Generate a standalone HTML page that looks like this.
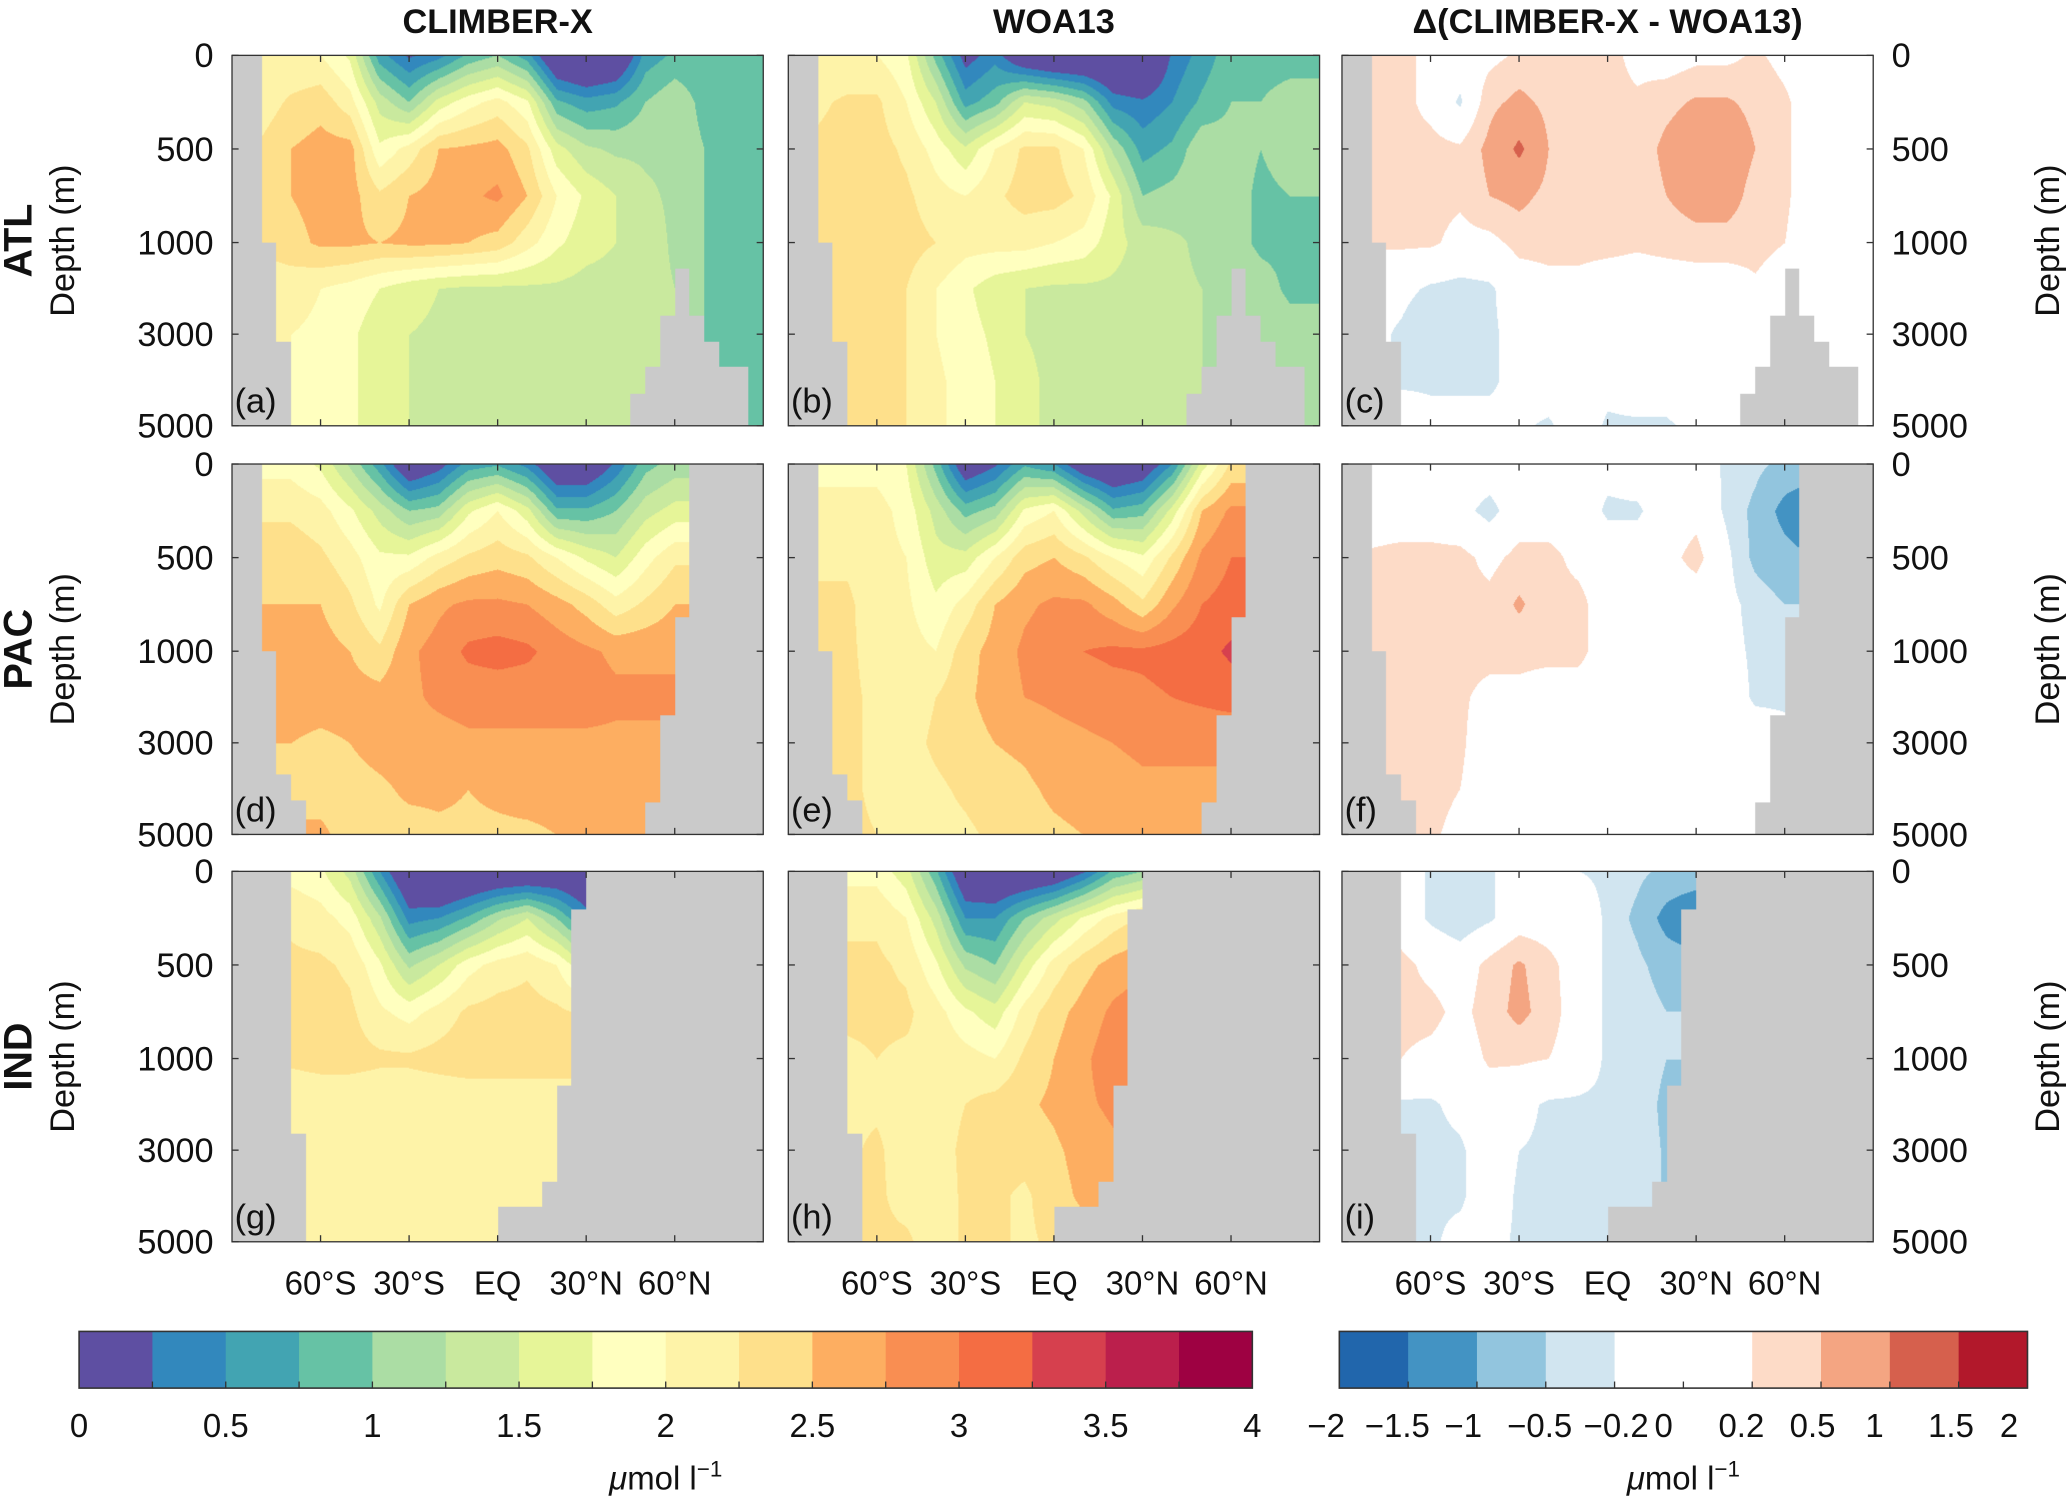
<!DOCTYPE html>
<html><head><meta charset="utf-8">
<style>
html,body{margin:0;padding:0;background:#fff;width:2067px;height:1498px;overflow:hidden}
#wrap{position:absolute;left:0;top:0;width:1568px;height:1137px;transform:scale(1.318240);transform-origin:0 0}
canvas{position:absolute}
svg{position:absolute;left:0;top:0}
text{font-family:"Liberation Sans",sans-serif;fill:#111}
</style></head>
<body>
<div id="wrap">
<svg id="ov" width="1568" height="1137" viewBox="0 0 1568 1137"></svg>
</div>
<script>
const latPoints=[-90,-80,-70,-60,-50,-40,-30,-20,-10,0,10,20,30,40,50,60,70,80,90];
const depthLevels=[0,250,500,750,1000,2000,3000,4000,5000];
const climberAtl=[
[2.0,2.0,2.0,2.0,1.7,0.6,0.2,0.4,0.8,1.0,0.6,-0.3,-0.5,-0.3,0.6,0.8,0.8,0.8,0.8],
[2.1,2.1,2.3,2.4,2.1,1.4,1.0,1.6,1.9,2.1,1.8,0.8,0.6,0.7,1.0,1.2,0.9,0.85,0.85],
[2.3,2.3,2.5,2.6,2.6,1.8,2.1,2.5,2.55,2.6,2.3,1.6,1.3,1.2,1.2,1.2,1.0,0.85,0.85],
[2.3,2.3,2.5,2.6,2.6,2.3,2.5,2.6,2.7,2.8,2.5,2.0,1.7,1.5,1.3,1.2,1.0,0.85,0.85],
[2.3,2.3,2.4,2.55,2.55,2.5,2.55,2.55,2.5,2.4,2.1,1.8,1.6,1.5,1.4,1.2,1.0,0.9,0.9],
[2.1,2.1,2.1,2.0,1.9,1.75,1.6,1.5,1.45,1.45,1.45,1.45,1.4,1.4,1.35,1.25,1.0,0.9,0.9],
[2.0,2.0,2.0,1.95,1.8,1.6,1.5,1.45,1.45,1.45,1.45,1.45,1.4,1.4,1.35,1.25,1.0,0.9,0.9],
[2.0,2.0,2.0,1.95,1.8,1.6,1.5,1.45,1.45,1.45,1.45,1.45,1.4,1.4,1.35,1.25,1.0,0.9,0.9],
[2.0,2.0,2.0,1.95,1.8,1.6,1.5,1.45,1.45,1.45,1.45,1.45,1.4,1.4,1.35,1.25,1.0,0.9,0.9]];
const woaAtl=[
[2.0,2.0,2.0,2.0,1.8,0.9,0.1,0.4,-0.2,-0.4,-0.4,-0.4,-0.5,0.3,0.6,0.9,0.9,0.9,0.9],
[2.2,2.2,2.3,2.3,2.0,1.5,0.65,0.9,1.5,1.4,1.1,0.4,0.3,0.5,0.8,1.0,1.0,1.1,1.1],
[2.3,2.3,2.35,2.35,2.2,1.9,1.55,2.0,2.3,2.3,2.0,1.2,0.65,0.8,1.2,1.1,1.0,1.1,1.1],
[2.35,2.35,2.35,2.35,2.3,2.1,2.0,2.2,2.35,2.35,2.2,1.7,1.0,1.1,1.2,1.1,0.95,1.0,1.0],
[2.35,2.35,2.35,2.35,2.35,2.25,2.1,2.1,2.1,2.0,1.9,1.6,1.4,1.3,1.2,1.1,0.95,0.95,0.95],
[2.3,2.3,2.3,2.3,2.25,2.0,1.8,1.6,1.5,1.45,1.45,1.45,1.4,1.3,1.25,1.2,1.1,0.95,0.95],
[2.3,2.3,2.3,2.3,2.25,2.0,1.85,1.7,1.5,1.45,1.4,1.4,1.35,1.3,1.25,1.2,1.15,1.1,1.1],
[2.3,2.3,2.3,2.3,2.25,2.05,1.9,1.75,1.55,1.45,1.4,1.4,1.35,1.3,1.25,1.2,1.2,1.15,1.15],
[2.3,2.3,2.3,2.3,2.25,2.05,1.9,1.75,1.55,1.45,1.4,1.4,1.35,1.3,1.25,1.2,1.2,1.15,1.15]];
const deltaAtl=[
[0,0.3,0.3,0.1,0,0.1,0.25,0.25,0.25,0.3,0.1,0,0.1,0.1,0.25,0.1,0,0,0],
[0,0.3,0.3,0.1,-0.25,0.4,0.6,0.4,0.3,0.3,0.25,0.4,0.55,0.55,0.4,0.25,0,0,0],
[0,0.3,0.3,0.3,0.25,0.6,1.1,0.5,0.3,0.3,0.3,0.6,0.8,0.8,0.5,0.25,0,0,0],
[0,0.3,0.3,0.3,0.25,0.5,0.6,0.4,0.3,0.3,0.3,0.5,0.7,0.7,0.35,0.25,0,0,0],
[0,0.25,0.25,0.25,0.1,0.1,0.3,0.3,0.3,0.3,0.25,0.3,0.35,0.35,0.3,0.2,0,0,0],
[0,-0.1,-0.1,-0.25,-0.3,-0.25,0,0.1,0.1,0,0,0,0,0,0.15,0,0,0,0],
[0,-0.1,-0.25,-0.5,-0.3,-0.25,-0.1,0,0,0,0,0,0,0,0,0,0,0,0],
[0,-0.1,-0.25,-0.25,-0.25,-0.25,-0.1,0,0,-0.1,0,0,0,0,0,0,0,0,0],
[0,0,0,-0.1,-0.1,-0.1,-0.15,-0.25,0,-0.25,-0.25,-0.25,-0.1,0,0,0,0,0,0]];
const climberPac=[
[1.9,1.9,1.9,1.7,1.2,0.6,-0.2,0.1,0.6,0.7,0.4,-0.2,-0.2,0.3,0.9,1.1,1.1,1.1,1.1],
[2.2,2.2,2.2,2.1,1.8,1.4,1.0,1.1,1.7,2.0,1.6,0.8,0.8,1.0,1.4,1.6,1.6,1.6,1.6],
[2.4,2.4,2.4,2.3,2.1,1.8,1.8,2.1,2.3,2.4,2.3,2.0,1.7,1.5,1.9,2.2,2.2,2.2,2.2],
[2.5,2.5,2.5,2.5,2.3,1.95,2.5,2.7,2.8,2.8,2.75,2.6,2.4,2.1,2.3,2.5,2.5,2.5,2.5],
[2.5,2.5,2.5,2.6,2.5,2.3,2.7,2.85,3.05,3.1,3.05,2.9,2.8,2.7,2.7,2.7,2.7,2.7,2.7],
[2.6,2.6,2.6,2.6,2.6,2.6,2.7,2.8,2.85,2.85,2.85,2.85,2.85,2.8,2.8,2.8,2.8,2.8,2.8],
[2.5,2.5,2.5,2.45,2.5,2.6,2.65,2.65,2.7,2.7,2.7,2.7,2.7,2.7,2.7,2.7,2.7,2.7,2.7],
[2.4,2.4,2.4,2.4,2.4,2.45,2.55,2.55,2.5,2.55,2.6,2.6,2.6,2.6,2.6,2.6,2.6,2.6,2.6],
[2.55,2.55,2.55,2.55,2.4,2.4,2.4,2.45,2.45,2.45,2.45,2.5,2.6,2.6,2.6,2.6,2.6,2.6,2.6]];
const woaPac=[
[1.9,1.9,1.9,1.9,1.75,0.9,-0.1,0.2,0.7,0.5,-0.1,-0.3,-0.1,0.5,1.6,2.3,2.3,2.3,2.3],
[2.1,2.1,2.1,2.1,1.9,1.4,0.9,1.1,1.8,2.0,1.4,0.8,0.9,1.6,2.5,2.8,2.8,2.8,2.8],
[2.2,2.2,2.2,2.1,2.0,1.6,1.6,2.0,2.4,2.5,2.3,2.0,1.8,2.3,2.8,3.0,3.0,3.0,3.0],
[2.3,2.3,2.3,2.1,2.05,1.8,2.1,2.5,2.7,2.8,2.8,2.6,2.3,2.7,3.0,3.1,3.1,3.1,3.1],
[2.3,2.3,2.3,2.15,2.1,2.0,2.4,2.6,2.8,2.9,3.0,3.05,3.05,3.1,3.15,3.3,3.3,3.3,3.3],
[2.3,2.3,2.3,2.2,2.1,2.25,2.45,2.6,2.75,2.8,2.85,2.9,2.95,3.0,3.05,3.1,3.1,3.1,3.1],
[2.3,2.3,2.3,2.2,2.15,2.3,2.4,2.5,2.55,2.65,2.7,2.75,2.8,2.8,2.8,2.8,2.8,2.8,2.8],
[2.3,2.3,2.3,2.2,2.1,2.2,2.3,2.4,2.45,2.55,2.6,2.65,2.7,2.7,2.7,2.7,2.7,2.7,2.7],
[2.3,2.3,2.3,2.25,2.1,2.15,2.2,2.3,2.4,2.45,2.5,2.55,2.6,2.6,2.6,2.6,2.6,2.6,2.6]];
const deltaPac=[
[0,0,0,0,0,0,0,0,-0.1,-0.1,0,0,0,-0.25,-0.4,-0.6,-0.6,-0.6,-0.6],
[0,0,0,0,-0.1,-0.3,0,0,0,-0.25,-0.25,0,0.1,-0.25,-0.6,-1.2,-1.6,-1.6,-1.6],
[0.25,0.25,0.3,0.3,0.3,0.1,0.3,0.3,0.1,0,0,0.1,0.3,-0.1,-0.6,-0.8,-1.0,-1.0,-1.0],
[0.3,0.3,0.3,0.3,0.3,0.3,0.55,0.3,0.3,0,0,0,0,-0.1,-0.3,-0.5,-0.5,-0.5,-0.5],
[0.3,0.3,0.3,0.3,0.3,0.3,0.3,0.3,0.3,0,0,0,0,-0.1,-0.25,-0.3,-0.3,-0.3,-0.3],
[0.3,0.3,0.3,0.3,0.25,0.1,0.1,0,0,0,0,0,0,0,-0.25,-0.25,-0.25,-0.25,-0.25],
[0.3,0.3,0.3,0.3,0.25,0,0,0,0,0,0,0,0,0,0,-0.1,-0.1,-0.1,-0.1],
[0.3,0.3,0.3,0.3,0.2,0,0,0,0,0,0,0,0,0,0,0,0,0,0],
[0.3,0.3,0.3,0.25,0.1,0,0,0,0,0,0,0,0,0,0,0,0,0,0]];
const climberInd=[
[1.9,1.9,1.9,1.8,1.4,0.5,-0.3,-0.6,-0.4,-0.3,-0.3,-0.2,-0.3,0.3,0.3,0.3,0.3,0.3,0.3],
[2.2,2.2,2.2,2.1,1.9,1.3,0.4,0.5,0.8,1.2,1.5,1.0,0.4,0.5,0.5,0.5,0.5,0.5,0.5],
[2.3,2.3,2.3,2.3,2.2,1.8,1.2,1.5,1.9,2.1,2.2,2.0,1.5,1.5,1.5,1.5,1.5,1.5,1.5],
[2.35,2.35,2.35,2.35,2.3,2.05,1.9,2.1,2.3,2.35,2.35,2.3,2.2,2.2,2.2,2.2,2.2,2.2,2.2],
[2.3,2.3,2.3,2.35,2.35,2.3,2.3,2.35,2.4,2.4,2.4,2.4,2.4,2.4,2.4,2.4,2.4,2.4,2.4],
[2.05,2.05,2.05,2.05,2.05,2.05,2.05,2.05,2.05,2.05,2.05,2.05,2.05,2.05,2.05,2.05,2.05,2.05,2.05],
[2.05,2.05,2.05,2.1,2.1,2.1,2.1,2.1,2.1,2.1,2.1,2.1,2.1,2.1,2.1,2.1,2.1,2.1,2.1],
[2.05,2.05,2.05,2.1,2.1,2.1,2.1,2.1,2.1,2.1,2.1,2.1,2.1,2.1,2.1,2.1,2.1,2.1,2.1],
[2.05,2.05,2.05,2.1,2.1,2.1,2.1,2.1,2.1,2.1,2.1,2.1,2.1,2.1,2.1,2.1,2.1,2.1,2.1]];
const woaInd=[
[1.9,1.9,1.9,1.9,1.6,0.8,-0.2,-0.3,-0.3,-0.2,0.2,0.8,1.0,1.0,1.0,1.0,1.0,1.0,1.0],
[2.2,2.2,2.2,2.2,2.0,1.4,0.5,0.5,1.0,1.4,1.8,2.1,2.3,2.3,2.3,2.3,2.3,2.3,2.3],
[2.3,2.3,2.3,2.3,2.2,1.8,1.2,1.0,1.6,2.1,2.4,2.6,2.7,2.7,2.7,2.7,2.7,2.7,2.7],
[2.3,2.3,2.3,2.3,2.3,2.1,1.8,1.6,2.1,2.4,2.6,2.8,2.9,2.9,2.9,2.9,2.9,2.9,2.9],
[2.2,2.2,2.2,2.25,2.2,2.2,2.1,2.0,2.3,2.5,2.7,2.9,3.05,3.05,3.05,3.05,3.05,3.05,3.05],
[2.2,2.2,2.2,2.2,2.1,2.15,2.25,2.35,2.45,2.55,2.7,2.8,2.8,2.8,2.8,2.8,2.8,2.8,2.8],
[2.2,2.2,2.2,2.3,2.1,2.15,2.3,2.35,2.35,2.45,2.6,2.7,2.7,2.7,2.7,2.7,2.7,2.7,2.7],
[2.3,2.3,2.3,2.3,2.15,2.1,2.3,2.3,2.2,2.4,2.55,2.6,2.6,2.6,2.6,2.6,2.6,2.6,2.6],
[2.3,2.3,2.3,2.3,2.3,2.1,2.3,2.3,2.2,2.3,2.4,2.5,2.5,2.5,2.5,2.5,2.5,2.5,2.5]];
const deltaInd=[
[0,0,0,-0.25,-0.3,-0.25,0,-0.1,-0.2,-0.25,-0.4,-0.6,-0.6,-0.5,0,0,0,0,0],
[0,0,0,-0.25,-0.4,-0.25,0,0,0,-0.25,-0.6,-1.2,-1.6,-0.8,0,0,0,0,0],
[0.3,0.3,0.3,0.1,0,0.3,0.55,0.3,0,-0.25,-0.4,-0.7,-0.7,-0.6,0,0,0,0,0],
[0.3,0.3,0.3,0.3,0.1,0.35,0.6,0.35,0,-0.25,-0.3,-0.5,-0.5,-0.5,0,0,0,0,0],
[0.2,0.2,0.2,0.1,0,0.25,0.25,0.2,0,-0.25,-0.3,-0.5,-0.5,-0.5,0,0,0,0,0],
[-0.25,-0.25,-0.25,-0.25,-0.1,0,-0.1,-0.25,-0.25,-0.25,-0.3,-0.6,-0.6,-0.5,0,0,0,0,0],
[-0.25,-0.25,-0.25,-0.3,-0.25,0,-0.2,-0.25,-0.3,-0.3,-0.3,-0.55,-0.55,-0.5,0,0,0,0,0],
[-0.25,-0.25,-0.25,-0.25,-0.25,0,-0.25,-0.25,-0.3,-0.3,-0.3,-0.55,-0.55,-0.5,0,0,0,0,0],
[-0.25,-0.25,-0.25,-0.25,-0.1,-0.1,-0.25,-0.25,-0.3,-0.3,-0.3,-0.5,-0.5,-0.5,0,0,0,0,0]];
// ocean bottom depth per 5-degree latitude bin (0 = land)
const bottomAtl=[0,0,1000,3160,5000,5000,5000,5000,5000,5000,5000,5000,5000,5000,5000,5000,5000,5000,5000,5000,5000,5000,5000,5000,5000,5000,5000,4300,3700,2600,1560,2600,3160,3700,3700,5000];
const bottomPac=[0,0,1000,3680,4250,5000,5000,5000,5000,5000,5000,5000,5000,5000,5000,5000,5000,5000,5000,5000,5000,5000,5000,5000,5000,5000,5000,5000,4300,2400,815,0,0,0,0,0];
const bottomInd=[0,0,0,0,2640,5000,5000,5000,5000,5000,5000,5000,5000,5000,5000,5000,5000,5000,4230,4230,4230,3680,1580,205,0,0,0,0,0,0,0,0,0,0,0,0];
const absLevels=[0,0.25,0.5,0.75,1,1.25,1.5,1.75,2,2.25,2.5,2.75,3,3.25,3.5,3.75,4];
const absColors=['#5e4fa2','#3288bd','#42a4b2','#66c2a5','#abdda4','#c9e99e','#e6f598','#ffffbf','#fef3a8','#fee08b','#fdae61','#f98e52','#f46d43','#d6404e','#bb1f4c','#9e0142'];
const diffLevels=[-2,-1.5,-1,-0.5,-0.2,0,0.2,0.5,1,1.5,2];
const diffColors=['#2166ac','#4393c3','#92c5de','#d1e5f0','#ffffff','#ffffff','#fddbc7','#f4a582','#d6604d','#b2182b'];
const absTickLabels=['0','0.5','1','1.5','2','2.5','3','3.5','4'];
const absTickValues=[0,0.5,1,1.5,2,2.5,3,3.5,4];
const diffTickLabels=['\u22122','\u22121.5','\u22121','\u22120.5','\u22120.2','0','0.2','0.5','1','1.5','2'];
const diffTickValues=[-2,-1.5,-1,-0.5,-0.2,0,0.2,0.5,1,1.5,2];
const depthTickValues=[0,500,1000,3000,5000];
const latTickValues=[-60,-30,0,30,60];
const latTickLabels=['60°S','30°S','EQ','30°N','60°N'];
const colTitles=['CLIMBER-X','WOA13','\u0394(CLIMBER-X - WOA13)'];
const basinNames=['ATL','PAC','IND'];

const colX=[176,598,1018], rowY=[42,352,661], PW=403, PH=281, S=2067/1568;
const GRAY=[202,202,202];
function depthToY(d){return d<=1000? d/1000*142 : 142+(d-1000)/4000*139;}
function yToDepth(y){return y<=142? y/142*1000 : 1000+(y-142)/139*4000;}
function latToX(l){return (l+90)/180*PW;}
function xToLat(x){return x/PW*180-90;}
function hex(c){return [parseInt(c.substr(1,2),16),parseInt(c.substr(3,2),16),parseInt(c.substr(5,2),16)];}
const absRGB=absColors.map(hex), diffRGB=diffColors.map(hex);
function findIdx(arr,v){for(let i=0;i<arr.length-2;i++){if(v<arr[i+1])return i;}return arr.length-2;}
function sample(f,lat,d){
  const i=findIdx(latPoints,lat), j=findIdx(depthLevels,d);
  let tx=(lat-latPoints[i])/(latPoints[i+1]-latPoints[i]); tx=Math.max(0,Math.min(1,tx));
  let ty=(d-depthLevels[j])/(depthLevels[j+1]-depthLevels[j]); ty=Math.max(0,Math.min(1,ty));
  const a=f[j][i],b=f[j][i+1],c=f[j+1][i],e=f[j+1][i+1];
  return (a*(1-tx)+b*tx)*(1-ty)+(c*(1-tx)+e*tx)*ty;
}
function colorFor(v,levels,rgb){
  for(let k=0;k<rgb.length;k++){if(v<levels[k+1])return rgb[k];}
  return rgb[rgb.length-1];
}
const panels=[
 {l:'a',f:climberAtl,m:bottomAtl,d:false,c:0,r:0},{l:'b',f:woaAtl,m:bottomAtl,d:false,c:1,r:0},{l:'c',f:deltaAtl,m:bottomAtl,d:true,c:2,r:0},
 {l:'d',f:climberPac,m:bottomPac,d:false,c:0,r:1},{l:'e',f:woaPac,m:bottomPac,d:false,c:1,r:1},{l:'f',f:deltaPac,m:bottomPac,d:true,c:2,r:1},
 {l:'g',f:climberInd,m:bottomInd,d:false,c:0,r:2},{l:'h',f:woaInd,m:bottomInd,d:false,c:1,r:2},{l:'i',f:deltaInd,m:bottomInd,d:true,c:2,r:2}];
const wrap=document.getElementById('wrap'), ov=document.getElementById('ov');
const NS='http://www.w3.org/2000/svg';
function mk(tag,attrs,parent){const e=document.createElementNS(NS,tag);for(const k in attrs)e.setAttribute(k,attrs[k]);(parent||ov).appendChild(e);return e;}
function txt(x,y,s,size,anchor,weight,rot){const e=mk('text',{x:x,y:y,'font-size':size,'text-anchor':anchor||'middle','font-weight':weight||'normal'});if(rot)e.setAttribute('transform','rotate(-90 '+x+' '+y+')');e.textContent=s;return e;}

panels.forEach(p=>{
  const cv=document.createElement('canvas');
  
  
  const cw=Math.round(PW*S), ch=Math.round(PH*S);
  cv.width=cw; cv.height=ch;
  cv.style.left=colX[p.c]+'px'; cv.style.top=rowY[p.r]+'px';
  cv.style.width=PW+'px'; cv.style.height=PH+'px';
  wrap.insertBefore(cv,ov);
  const ctx=cv.getContext('2d'); const img=ctx.createImageData(cw,ch);
  for(let j=0;j<ch;j++){
    const d=yToDepth((j+0.5)/S);
    for(let i=0;i<cw;i++){
      const lat=xToLat((i+0.5)/S);
      const bin=Math.max(0,Math.min(35,Math.floor((lat+90)/5)));
      let col;
      if(d>p.m[bin]) col=GRAY;
      else { const v=sample(p.f,lat,d)+0.0007; col=p.d?colorFor(v,diffLevels,diffRGB):colorFor(v,absLevels,absRGB); }
      const o=(j*cw+i)*4; img.data[o]=col[0];img.data[o+1]=col[1];img.data[o+2]=col[2];img.data[o+3]=255;
    }
  }
  ctx.putImageData(img,0,0);
  const x0=colX[p.c], y0=rowY[p.r];
  const g=mk('g',{});
  
  
  const fr=mk('rect',{x:x0,y:y0,width:PW,height:PH,fill:'none',stroke:'#333','stroke-width':1},g);
  
  
  depthTickValues.forEach(dv=>{const yy=y0+depthToY(dv);mk('line',{x1:x0,x2:x0+5,y1:yy,y2:yy,stroke:'#333'},g);mk('line',{x1:x0+PW,x2:x0+PW-5,y1:yy,y2:yy,stroke:'#333'},g);});
  latTickValues.forEach(lv=>{const xx=x0+latToX(lv);mk('line',{x1:xx,x2:xx,y1:y0+PH,y2:y0+PH-5,stroke:'#333'},g);mk('line',{x1:xx,x2:xx,y1:y0,y2:y0+5,stroke:'#333'},g);});
  const lt=txt(x0+2,y0+PH-10,'('+p.l+')',26,'start');
  
  
});

colTitles.forEach((t,i)=>{const e=txt(colX[i]+PW/2,25,t,26,'middle','bold');
  
  });
for(let r=0;r<3;r++){
  depthTickValues.forEach(dv=>{
    const yy=rowY[r]+depthToY(dv)+9;
    const a=txt(162,yy,String(dv),26,'end');
    
    
    const b=txt(1435,yy,String(dv),26,'start');
    
    
  });
  const cy=rowY[r]+PH/2;
  const bn=txt(24,cy,basinNames[r],30,'middle','bold',true);
  
  
  const yl=txt(56,cy,'Depth (m)',26,'middle','normal',true);
  
  
  const yr=txt(1562,cy,'Depth (m)',26,'middle','normal',true);
  
  
}
for(let c=0;c<3;c++){
  latTickValues.forEach((lv,k)=>{
    const e=txt(colX[c]+latToX(lv),982,latTickLabels[k],25,'middle');
    
    
  });
}
function colorbar(x0,x1,levels,colors,tickVals,tickLabs,labelX,name){
  const g=mk('g',{});
  
  
  const n=colors.length, w=(x1-x0)/n;
  colors.forEach((c,k)=>{const r=mk('rect',{x:x0+k*w,y:1010,width:w+0.5,height:43,fill:c},g);
    
    });
  mk('rect',{x:x0,y:1010,width:x1-x0,height:43,fill:'none',stroke:'#333','stroke-width':1.2},g);
  for(let k=1;k<n;k++){const xx=x0+k*w;mk('line',{x1:xx,x2:xx,y1:1053,y2:1048,stroke:'#333'},g);}
  tickLabs.forEach((t,k)=>{const xx=labelX?labelX[k]:x0+(tickVals[k]-levels[0])/(levels[levels.length-1]-levels[0])*(x1-x0);
    const e=txt(xx,1090,t,25,'middle');
    
    });
  const u=mk('text',{x:(x0+x1)/2,y:1130,'font-size':25,'text-anchor':'middle'},g);
  u.innerHTML='<tspan font-style="italic">\u03bc</tspan>mol l<tspan dy="-10" font-size="17">\u22121</tspan>';
  
  
}
colorbar(60,950,absLevels,absColors,absTickValues,absTickLabels,null,'colorbar-concentration');
const diffLabelX=[1006,1060,1110,1168,1226,1262,1321,1375,1422,1480,1524];
colorbar(1016,1538,diffLevels,diffColors,diffTickValues,diffTickLabels,diffLabelX,'colorbar-difference');
</script>
</body></html>
